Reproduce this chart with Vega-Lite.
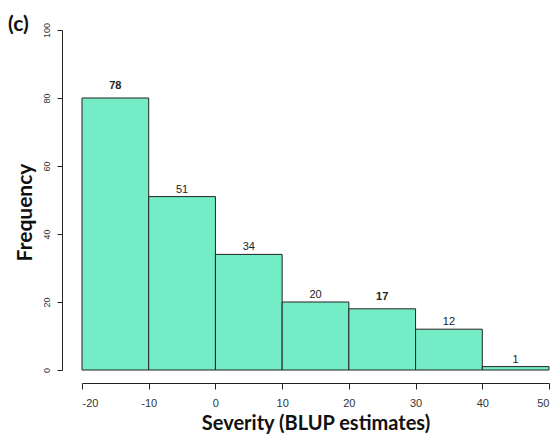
{
  "$schema": "https://vega.github.io/schema/vega-lite/v6.json",
  "width": 467,
  "height": 340,
  "autosize": {"type": "none"},
  "padding": {"left": 82, "top": 30, "right": 4, "bottom": 67},
  "background": "white",
  "title": {"text": "(c)", "anchor": "start", "frame": "group", "orient": "top", "dx": -74, "dy": 30, "offset": 0, "baseline": "alphabetic", "font": "Lato", "fontSize": 21, "fontWeight": "bold", "color": "#111"},
  "config": {
    "view": {"stroke": null},
    "axis": {"grid": false, "domainColor": "#222", "tickColor": "#222", "labelColor": "#333", "labelFont": "Liberation Sans", "titleFont": "Lato", "titleFontWeight": "bold", "titleColor": "#111", "domainWidth": 1, "tickWidth": 1}
  },
  "data": {"values": [
    {"start": -20, "end": -10, "mid": -15, "count": 80, "label": 78},
    {"start": -10, "end": 0, "mid": -5, "count": 51, "label": 51},
    {"start": 0, "end": 10, "mid": 5, "count": 34, "label": 34},
    {"start": 10, "end": 20, "mid": 15, "count": 20, "label": 20},
    {"start": 20, "end": 30, "mid": 25, "count": 18, "label": 17},
    {"start": 30, "end": 40, "mid": 35, "count": 12, "label": 12},
    {"start": 40, "end": 50, "mid": 45, "count": 1, "label": 1}
  ]},
  "layer": [
    {
      "mark": {"type": "rect", "fill": "#74EDC6", "stroke": "#222", "strokeWidth": 1},
      "encoding": {
        "x": {"field": "start", "type": "quantitative", "scale": {"domain": [-20, 50], "nice": false, "zero": false},
              "axis": {"values": [-20, -10, 0, 10, 20, 30, 40, 50], "labelExpr": "'' + datum.value", "offset": 13, "tickSize": 6, "labelFontSize": 11, "labelPadding": 8, "title": "Severity (BLUP estimates)", "titleFontSize": 20, "titlePadding": 5}},
        "x2": {"field": "end"},
        "y": {"field": "count", "type": "quantitative", "scale": {"domain": [0, 100], "nice": false},
              "axis": {"values": [0, 20, 40, 60, 80, 100], "offset": 20, "tickSize": 5, "labelAngle": -90, "labelAlign": "center", "labelBaseline": "bottom", "labelFontSize": 9, "labelPadding": 6, "title": "Frequency", "titleFontSize": 21, "titlePadding": 7, "titleY": 182}},
        "y2": {"datum": 0}
      }
    },
    {
      "transform": [{"filter": "datum.label != 78 && datum.label != 17"}],
      "mark": {"type": "text", "baseline": "alphabetic", "dy": -4, "font": "Liberation Sans", "fontSize": 11, "color": "#222"},
      "encoding": {
        "x": {"field": "mid", "type": "quantitative"},
        "y": {"field": "count", "type": "quantitative"},
        "text": {"field": "label"}
      }
    },
    {
      "transform": [{"filter": "datum.label == 78 || datum.label == 17"}],
      "mark": {"type": "text", "baseline": "alphabetic", "dy": -9, "font": "Liberation Sans", "fontSize": 11, "fontWeight": "bold", "color": "#222"},
      "encoding": {
        "x": {"field": "mid", "type": "quantitative"},
        "y": {"field": "count", "type": "quantitative"},
        "text": {"field": "label"}
      }
    }
  ]
}
